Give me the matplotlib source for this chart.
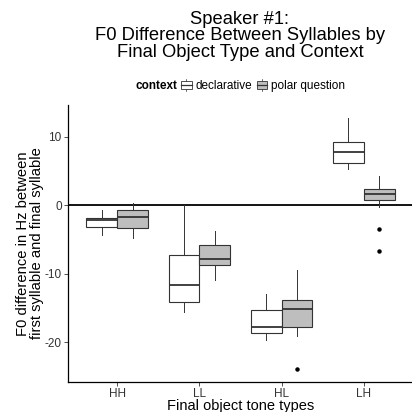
import matplotlib
matplotlib.use("Agg")
import matplotlib.pyplot as plt
from matplotlib.patches import Rectangle
from matplotlib.lines import Line2D
from matplotlib.legend_handler import HandlerBase

plt.rcParams['font.family'] = ['Liberation Sans', 'DejaVu Sans']
plt.rcParams['axes.unicode_minus'] = False

tones = ['HH', 'LL', 'HL', 'LH']
contexts = ['declarative', 'polar question']

# box stats: whislo, q1, med, q3, whishi, outliers
decl_whislo = [-4.4, -15.6, -19.7, 5.2]
decl_q1 = [-3.15, -14.1, -18.6, 6.2]
decl_med = [-2.1, -11.7, -17.8, 7.7]
decl_q3 = [-1.95, -7.3, -15.3, 9.25]
decl_whishi = [-0.7, 0.0, -12.9, 12.65]
decl_fliers = [[], [], [], []]

polar_whislo = [-4.8, -10.95, -19.1, -0.25]
polar_q1 = [-3.3, -8.8, -17.85, 0.75]
polar_med = [-1.7, -7.9, -15.1, 1.55]
polar_q3 = [-0.75, -5.85, -13.9, 2.3]
polar_whishi = [0.35, -3.8, -9.5, 4.3]
polar_fliers = [[], [], [-23.9], [-3.5, -6.7]]


def make_stats(lo, q1, med, q3, hi, fl):
    return [dict(whislo=a, q1=b, med=c, q3=d, whishi=e, fliers=f)
            for a, b, c, d, e, f in zip(lo, q1, med, q3, hi, fl)]


decl_stats = make_stats(decl_whislo, decl_q1, decl_med, decl_q3, decl_whishi, decl_fliers)
polar_stats = make_stats(polar_whislo, polar_q1, polar_med, polar_q3, polar_whishi, polar_fliers)

fills = ['white', '#BEBEBE']
edge = '#333333'

fig = plt.figure(figsize=(4.12, 4.12), dpi=100)
ax = fig.add_axes([68 / 412, 30 / 412, 345 / 412, 277 / 412])

ax.axhline(0, color='black', lw=1.3, zorder=1)

pos = range(1, len(tones) + 1)
for stats, off, fc in [(decl_stats, -0.1875, fills[0]), (polar_stats, 0.1875, fills[1])]:
    ax.bxp(stats, positions=[p + off for p in pos], widths=0.375,
           patch_artist=True, showcaps=False, manage_ticks=False,
           boxprops=dict(facecolor=fc, edgecolor=edge, lw=0.8),
           whiskerprops=dict(color=edge, lw=0.7),
           medianprops=dict(color=edge, lw=1.3),
           flierprops=dict(marker='o', markersize=2.2, markerfacecolor='black',
                           markeredgecolor='black', linestyle='none'))

ax.set_xlim(0.4, 4.6)
ax.set_ylim(-25.8, 14.6)
ax.set_xticks(list(pos))
ax.set_xticklabels(tones)
ax.set_yticks([-20, -10, 0, 10])
ax.tick_params(labelsize=8.5, colors='#333333', length=3, width=0.6, pad=1.5)
ax.tick_params(axis='x', pad=1)
for s in ['top', 'right']:
    ax.spines[s].set_visible(False)
for s in ['left', 'bottom']:
    ax.spines[s].set_linewidth(0.9)
    ax.spines[s].set_color('black')

ax.set_xlabel('Final object tone types', fontsize=10.5, va='center')
ax.xaxis.set_label_coords(0.5, -24 / 277)
ax.set_ylabel('F0 difference in Hz between\nfirst syllable and final syllable',
              fontsize=10.6, linespacing=0.95, va='center')
ax.yaxis.set_label_coords(-38 / 345, 0.5)

fig.text(240 / 412, 1 - 36 / 412,
         'Speaker #1:\nF0 Difference Between Syllables by\nFinal Object Type and Context',
         ha='center', va='center', fontsize=13.2, linespacing=0.95)


class BoxHandler(HandlerBase):
    def create_artists(self, legend, orig_handle, x0, y0, width, height, fontsize, trans):
        fc = orig_handle.get_facecolor()
        w = height * 1.3
        cx = x0 + width / 2
        r = Rectangle((cx - w / 2, y0), w, height, facecolor=fc, edgecolor=edge,
                      lw=0.6, transform=trans)
        m = Line2D([cx - w / 2, cx + w / 2], [y0 + height / 2] * 2, color=edge,
                   lw=0.9, transform=trans)
        v1 = Line2D([cx, cx], [y0 - height * 0.25, y0], color=edge, lw=0.5, transform=trans)
        v2 = Line2D([cx, cx], [y0 + height, y0 + height * 1.25], color=edge, lw=0.5, transform=trans)
        return [r, m, v1, v2]


handles = [Rectangle((0, 0), 1, 1, facecolor=c) for c in fills]
fig.text(177 / 412, 1 - 86 / 412, 'context', fontweight='bold', fontsize=8.5,
         ha='right', va='center')
fig.legend(handles, contexts, loc='center left', bbox_to_anchor=(180 / 412, 1 - 86 / 412),
           ncol=2, frameon=False, fontsize=8.5, handlelength=1.1, handletextpad=0.2,
           columnspacing=0.3, borderpad=0, borderaxespad=0,
           handler_map={Rectangle: BoxHandler()})

fig.savefig('out.png', dpi=100)
